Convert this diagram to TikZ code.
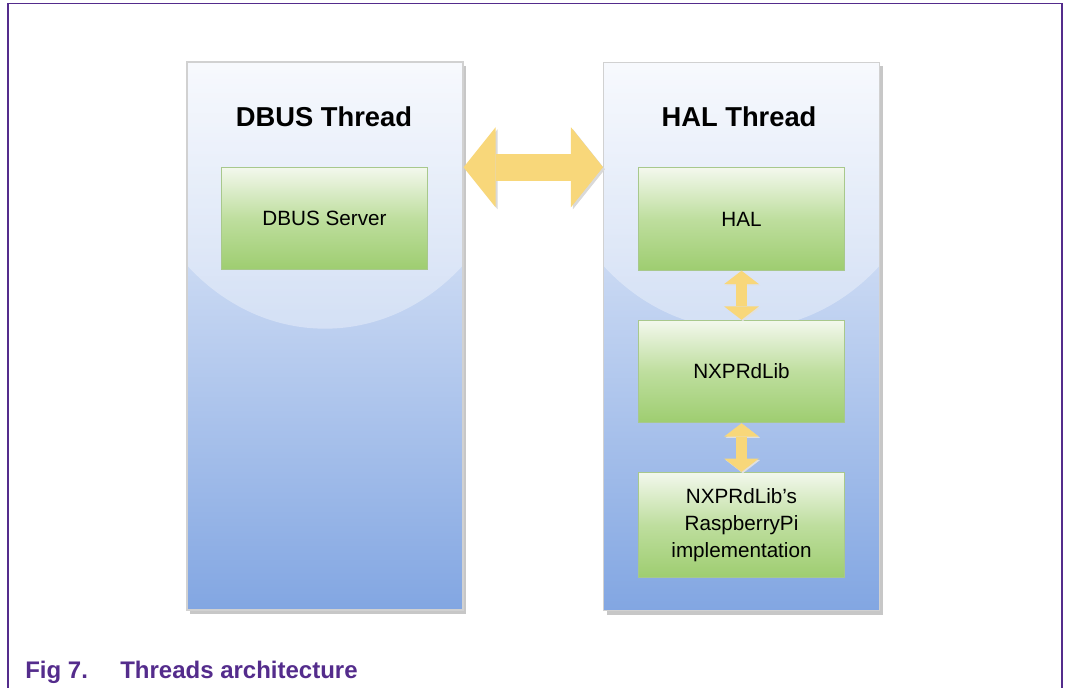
\documentclass[tikz,border=0pt]{standalone}
\usepackage{fontspec}
\setmainfont{Liberation Sans}
\usepackage{tikz}
\usetikzlibrary{positioning, arrows.meta, shadows}

\definecolor{framecol}{RGB}{84,44,140}
\definecolor{threadtop}{RGB}{244,247,253}
\definecolor{threadbot}{RGB}{130,166,226}
\definecolor{greentop}{RGB}{243,248,237}
\definecolor{greenmid}{RGB}{190,222,158}
\definecolor{greenbot}{RGB}{158,205,112}
\definecolor{greenedge}{RGB}{168,200,140}
\definecolor{linkyellow}{RGB}{248,215,122}

\begin{document}
\begin{tikzpicture}[x=0.75pt,y=-0.75pt,
	thread/.style={
		draw=black!18,
		rectangle, line width=0.8pt,
		minimum width=207pt, minimum height=411pt,
		top color=threadtop, bottom color=threadbot,
		drop shadow={shadow xshift=2.5pt, shadow yshift=-3pt, fill=black!22, opacity=1},
		path picture={\fill[white,opacity=0.35] ([yshift=-28pt]path picture bounding box.north) ellipse [x radius=150pt, y radius=172pt];}
	},
	block/.style={
		draw=greenedge,
		rectangle, line width=0.6pt,
		minimum width=155pt, minimum height=77pt,
		top color=greentop, bottom color=greenbot, middle color=greenmid,
		font=\fontsize{15.5}{20}\selectfont,
		align=center
	},
	heading/.style={
		font=\fontsize{20.5}{24}\selectfont\bfseries
	},
	caption/.style={
		text=framecol,
		font=\fontsize{18}{22}\selectfont\bfseries,
		anchor=base west, inner sep=0pt
	},
	biglink/.style={
		draw=linkyellow, line width=20pt,
		{Triangle[length=24pt,width=60pt,line width=0pt]}-{Triangle[length=24pt,width=60pt,line width=0pt]},
		preaction={draw=black!15, transform canvas={shift={(1.5pt,-1.5pt)}}}
	},
	smalllink/.style={
		draw=linkyellow, line width=8pt,
		{Triangle[length=10pt,width=26pt,line width=0pt]}-{Triangle[length=10pt,width=26pt,line width=0pt]},
		preaction={draw=black!12, transform canvas={shift={(1pt,-1pt)}}}
	}
	]
	\useasboundingbox (0,0) rectangle (1066,688);
	\draw[framecol, line width=1.2pt] (8,688) -- (8,3.5) -- (1062,3.5) -- (1062,688);
	
	\node[thread] (dbus) at (325,336) {};
	\node[thread] (halthread) at (741.5,336.5) {};
	\node[heading] (dbushead) at (324,117) {DBUS Thread};
	\node[heading] (halhead) at (739,117) {HAL Thread};
	
	\node[block, minimum width=154pt] (server) at (324.5,218.5) {DBUS Server};
	\node[block] (hal) at (741.5,219) {HAL};
	\node[block] (nxp) at (741.5,371.5) {NXPRdLib};
	\node[block, minimum height=79pt] (impl) at (741.5,525) {NXPRdLib's\\RaspberryPi\\implementation};
	
	\draw[biglink] (dbus.east |- hal.north) -- (halthread.west |- hal.north);
	\draw[smalllink] (hal) -- (nxp);
	\draw[smalllink] (nxp) -- (impl);
	
	\node[caption] (fig) at (25,678) {Fig 7.};
	\node[caption] (title) at (120,678) {Threads architecture};
\end{tikzpicture}
\end{document}
